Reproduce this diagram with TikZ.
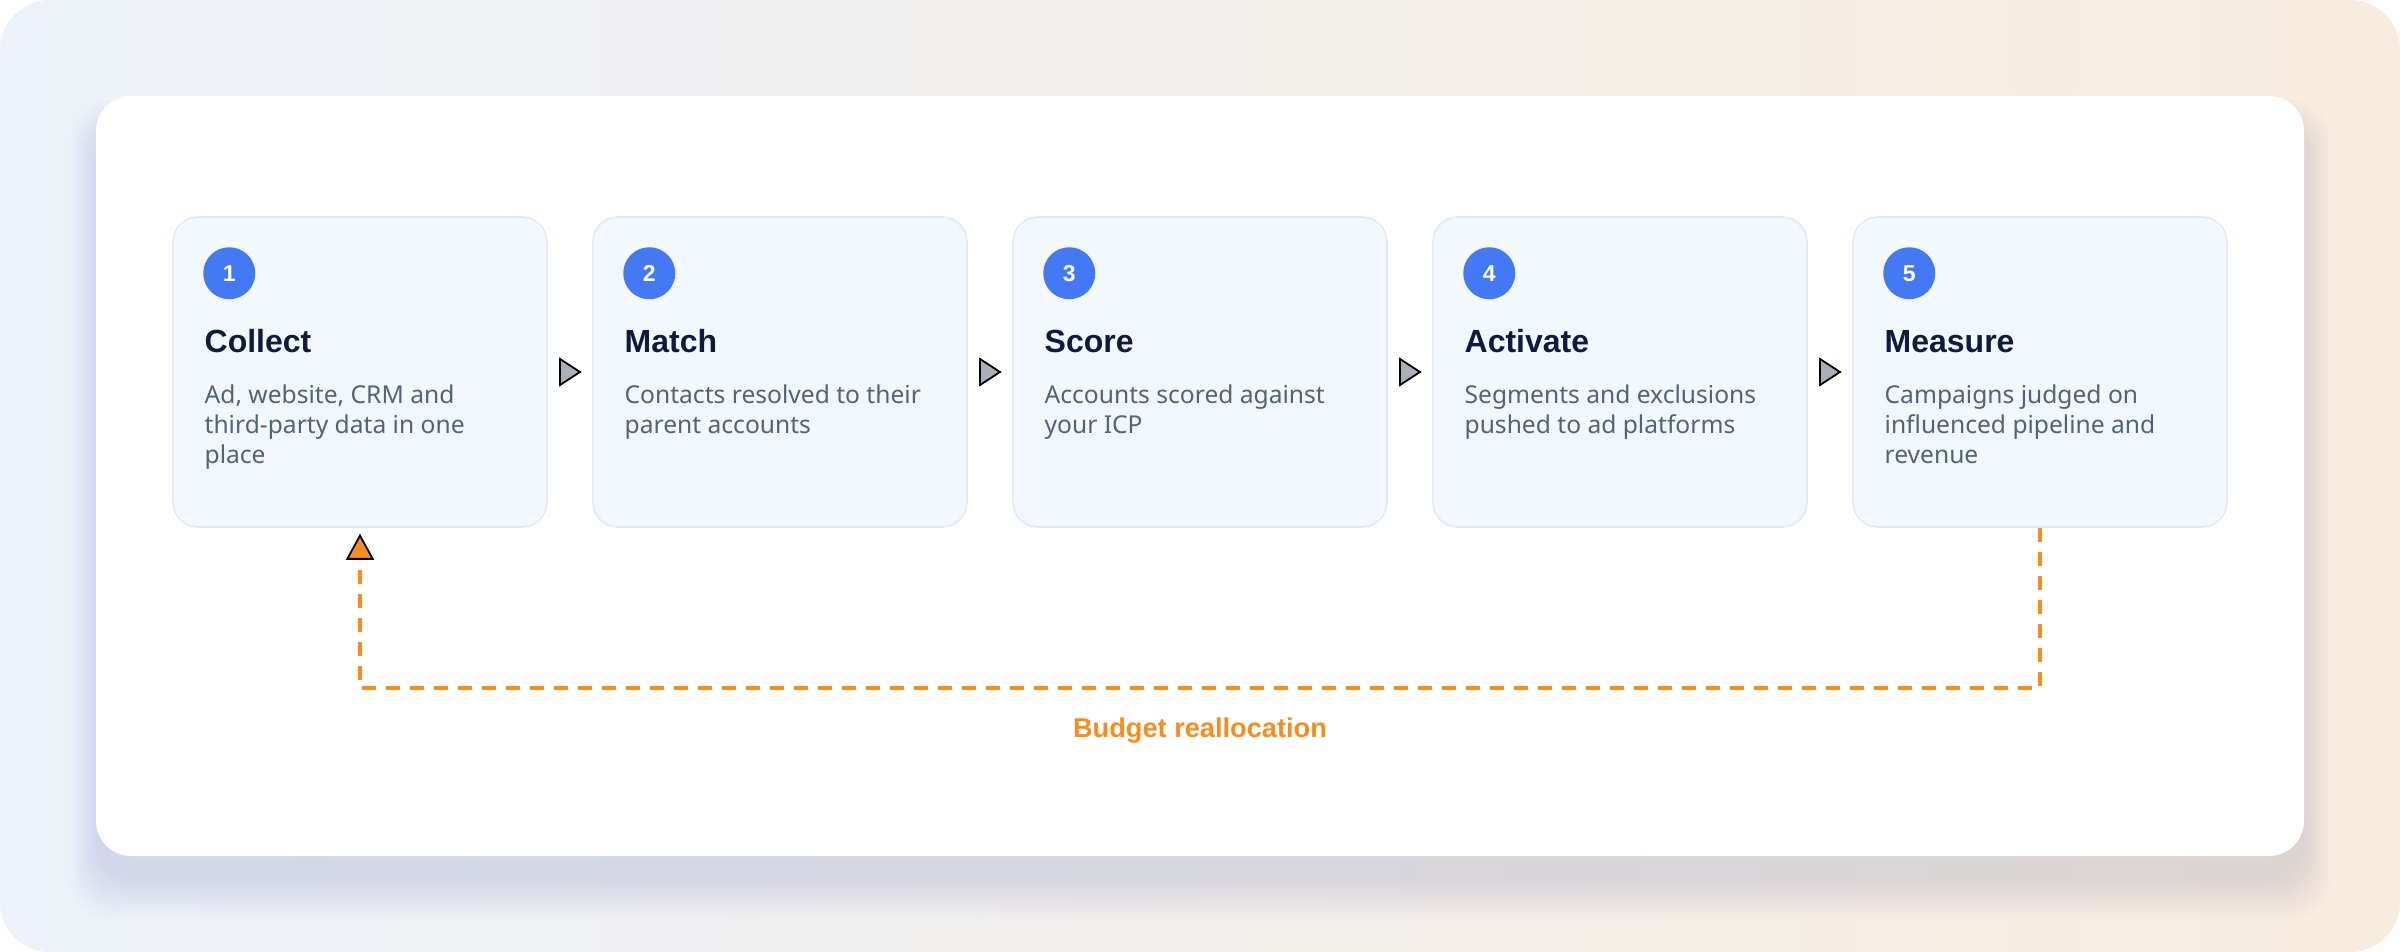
\documentclass[tikz,border=0pt]{standalone}
\usepackage{fontspec}
\setmainfont{Noto Sans}
\IfFontExistsTF{Noto Sans SemiBold}{\newfontfamily\semibf{Noto Sans SemiBold}}{%
  \IfFontExistsTF{NotoSans-SemiBold.ttf}{\newfontfamily\semibf{NotoSans-SemiBold.ttf}}{%
    \newfontfamily\semibx{Liberation Sans}\gdef\semibf{\semibx\bfseries}}}
\usetikzlibrary{calc,arrows.meta}
\definecolor{bgL}{HTML}{EDF2FA}
\definecolor{bgR}{HTML}{F8ECDE}
\definecolor{boxfill}{HTML}{F3F7FE}
\definecolor{boxline}{HTML}{E2E8F2}
\definecolor{numblue}{HTML}{4479F6}
\definecolor{titlec}{HTML}{0F1B3D}
\definecolor{bodyc}{HTML}{51627A}
\definecolor{orng}{HTML}{F68E1E}
\definecolor{trigray}{HTML}{A9B0BA}
\definecolor{shadowc}{HTML}{4A5A80}
\newcommand\bodylines[1]{\vtop{\baselineskip=15pt #1}}
\begin{document}
\begin{tikzpicture}[x=0.5pt,y=-0.5pt,
 stepbox/.style={draw=boxline, fill=boxfill, line width=0.75pt, rounded corners=12.5pt, minimum width=187pt, minimum height=155pt, inner sep=0pt},
 numdot/.style={circle, fill=numblue, minimum size=26pt, inner sep=0pt, text=white, font=\fontsize{11.5}{13}\semibf},
 steptitle/.style={anchor=base west, inner sep=0pt, text=titlec, font=\fontsize{16}{18}\semibf},
 stepbody/.style={anchor=base west, inner sep=0pt, text=bodyc, font=\fontsize{12.3}{15}\selectfont},
 flowtri/.style={draw=black, fill=trigray, line width=0.9pt, line join=miter},
 feedback/.style={draw=orng, line width=2pt, dash pattern=on 7pt off 5pt, -{Triangle[length=13pt,width=14pt,color=black,fill=orng,line width=0.9pt]}, shorten >=3pt},
 fblabel/.style={anchor=base, inner sep=0pt, text=orng, font=\fontsize{13.6}{15}\semibf},
]
\useasboundingbox (0,0) rectangle (2400,952);
\fill[white] (0,0) rectangle (2400,952);
\shade[left color=bgL,right color=bgR, rounded corners=25pt] (0,0) rectangle (2400,952);
% soft shadow of the card
\foreach \i in {0,...,13} {
  \fill[shadowc,opacity=0.006,rounded corners=20pt] ({96-2*\i},{126-2*\i}) rectangle ({2304+2*\i},{880+3*\i});
}
\fill[white, rounded corners=17.5pt] (96,96) rectangle (2304,856);

\node[stepbox] (b1) at (360,372) {};
\node[stepbox] (b2) at (780,372) {};
\node[stepbox] (b3) at (1200,372) {};
\node[stepbox] (b4) at (1620,372) {};
\node[stepbox] (b5) at (2040,372) {};

\foreach \b/\n/\t/\d in {b1/1/Collect/{\hbox{Ad, website, CRM and}\hbox{third-party data in one}\hbox{place}},
  b2/2/Match/{\hbox{Contacts resolved to their}\hbox{parent accounts}},
  b3/3/Score/{\hbox{Accounts scored against}\hbox{your ICP}},
  b4/4/Activate/{\hbox{Segments and exclusions}\hbox{pushed to ad platforms}},
  b5/5/Measure/{\hbox{Campaigns judged on}\hbox{influenced pipeline and}\hbox{revenue}}} {
  \node[numdot] (\b n) at ($(\b.north west)+(57,57)$) {\n};
  \node[steptitle] (\b t) at ($(\b.north west)+(32,136)$) {\t};
  \node[stepbody] (\b d) at ($(\b.north west)+(32,187)$) {\bodylines{\d}};
}

\foreach \a/\c in {b1/b2,b2/b3,b3/b4,b4/b5} {
  \draw[flowtri] ($(\a.east)!.5!(\c.west)+(-10,-13)$) -- ++(20,13) -- ++(-20,13) -- cycle;
}

\draw[feedback] (b5.south) -- ++(0,160) coordinate (fbc) -| (b1.south);
\node[fblabel] (fbl) at (1200,737) {Budget reallocation};
\end{tikzpicture}
\end{document}
